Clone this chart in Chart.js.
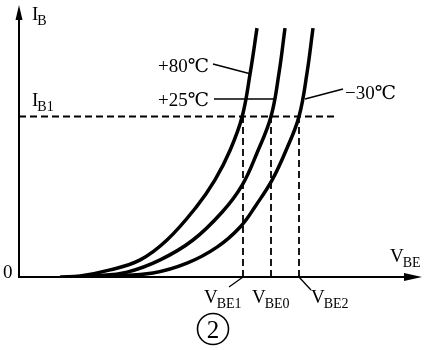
<!DOCTYPE html>
<html>
<head>
<meta charset="utf-8">
<script src="https://cdn.jsdelivr.net/npm/chart.js@4/dist/chart.umd.min.js"></script>
<style>
  html, body { margin: 0; padding: 0; background: #fff; }
  #wrap { width: 425px; height: 350px; }
</style>
</head>
<body>
<div id="wrap"><canvas id="grafica"></canvas></div>
<script>
// input characteristic I_B(V_BE) at three temperatures (arbitrary units)
var vbe80 = [10.3, 15.3, 22.8, 30.3, 37, 44.3, 49, 52.8, 55.8, 57.8, 59.5];
var ib80  = [0, 0.4, 2.6, 6.3, 13.6, 25.7, 35.7, 46.7, 59, 75, 91.5];

var vbe25 = [12.8, 18.5, 27, 35.3, 43.5, 50.8, 55.8, 59.5, 63, 65, 66.5];
var ib25  = [0, 0.4, 1.8, 6.3, 13.6, 23.9, 33.8, 45.6, 59, 75, 91.5];

var vbe30 = [16.5, 22.8, 33.5, 42, 49.5, 55.3, 59.3, 63.3, 66.8, 70, 72, 73.5];
var ib30  = [0, 0.4, 1.5, 5.1, 11, 18.4, 26.5, 35.7, 46.7, 59, 75, 91.5];

var etiquetas = ["+80℃", "+25℃", "−30℃"];
var IB1 = 59;
var vbeMarcas = [56, 63, 70];          // V_BE1, V_BE0, V_BE2
var vbeNombres = ["BE1", "BE0", "BE2"];
var finLineaIB1 = 79.5;

var FUENTE = "'Liberation Serif', 'DejaVu Serif', serif";

function puntos(xs, ys) {
    var arr = [];
    for (let i = 0; i < xs.length; i++) {
        arr.push({x: xs[i], y: ys[i]});
    }
    return arr;
}

function curva(xs, ys) {
    return {
        data: puntos(xs, ys),
        showLine: true,
        borderColor: "#000",
        borderWidth: 3.5,
        pointRadius: 0,
        tension: 0.4,
        fill: false
    };
}

function discontinua(pts) {
    return {
        data: pts,
        showLine: true,
        borderColor: "#000",
        borderWidth: 1.8,
        borderDash: [7, 4],
        pointRadius: 0,
        tension: 0
    };
}

var conjuntos = [curva(vbe80, ib80), curva(vbe25, ib25), curva(vbe30, ib30)];
conjuntos.push(discontinua([{x: 0, y: IB1}, {x: finLineaIB1, y: IB1}]));
for (let i = 0; i < vbeMarcas.length; i++) {
    conjuntos.push(discontinua([{x: vbeMarcas[i], y: 0}, {x: vbeMarcas[i], y: IB1}]));
}

// texto con subindice: letra principal + subindice mas pequeño
function conSub(ctx, letra, sub, x, y) {
    ctx.font = "19px " + FUENTE;
    ctx.textAlign = "left";
    ctx.textBaseline = "alphabetic";
    ctx.fillText(letra, x, y);
    var w = ctx.measureText(letra).width;
    ctx.font = "14px " + FUENTE;
    ctx.fillText(sub, x + w - 1, y + 5);
}

function linea(ctx, x1, y1, x2, y2, ancho) {
    ctx.beginPath();
    ctx.lineWidth = ancho;
    ctx.moveTo(x1, y1);
    ctx.lineTo(x2, y2);
    ctx.stroke();
}

var ejes = {
    id: "ejes",
    afterDatasetsDraw: function (chart) {
        var ctx = chart.ctx;
        var xs = chart.scales.x, ys = chart.scales.y;
        var x0 = xs.getPixelForValue(0), y0 = ys.getPixelForValue(0);
        var area = chart.chartArea;
        ctx.save();
        ctx.strokeStyle = "#000";
        ctx.fillStyle = "#000";

        // eje vertical con flecha
        linea(ctx, x0, y0 + 1, x0, area.top + 12, 2);
        ctx.beginPath();
        ctx.moveTo(x0, area.top);
        ctx.lineTo(x0 - 3.5, area.top + 15);
        ctx.lineTo(x0 + 3.5, area.top + 15);
        ctx.closePath();
        ctx.fill();

        // eje horizontal con flecha
        var punta = area.right + 3;
        linea(ctx, x0 - 1, y0, punta - 14, y0, 2);
        ctx.beginPath();
        ctx.moveTo(punta, y0);
        ctx.lineTo(punta - 18, y0 - 4);
        ctx.lineTo(punta - 18, y0 + 4);
        ctx.closePath();
        ctx.fill();

        // rotulos de ejes
        conSub(ctx, "I", "B", x0 + 13, 20);
        conSub(ctx, "I", "B1", x0 + 13, ys.getPixelForValue(IB1) - 11);
        ctx.font = "19px " + FUENTE;
        ctx.fillText("0", 3, y0 + 1);
        conSub(ctx, "V", "BE", 390, y0 - 15);

        // marcas en el eje V_BE
        var yLab = y0 + 26;
        var p1 = xs.getPixelForValue(vbeMarcas[0]);
        var p0 = xs.getPixelForValue(vbeMarcas[1]);
        var p2 = xs.getPixelForValue(vbeMarcas[2]);
        conSub(ctx, "V", vbeNombres[0], p1 - 39, yLab);
        conSub(ctx, "V", vbeNombres[1], p0 - 19, yLab);
        conSub(ctx, "V", vbeNombres[2], p2 + 12, yLab);
        linea(ctx, p1, y0, p1 - 14, y0 + 10, 1.3);
        linea(ctx, p2, y0, p2 + 12, y0 + 13, 1.3);

        // etiquetas de temperatura con lineas guia
        ctx.font = "19px " + FUENTE;
        ctx.fillText(etiquetas[0], 158, 72);
        linea(ctx, 213, 64, xs.getPixelForValue(58), ys.getPixelForValue(75) + 1, 1.3);
        ctx.fillText(etiquetas[1], 158, 106);
        linea(ctx, 214, 99, xs.getPixelForValue(63.8), 99, 1.3);
        ctx.fillText(etiquetas[2], 345, 99);
        linea(ctx, xs.getPixelForValue(71.5), 99, 343, 89, 1.3);

        // numero de figura en circulo
        ctx.beginPath();
        ctx.lineWidth = 1.6;
        ctx.arc(213, 329, 15.5, 0, Math.PI * 2);
        ctx.stroke();
        ctx.font = "25px " + FUENTE;
        ctx.textAlign = "center";
        ctx.fillText("2", 213, 338);
        ctx.restore();
    }
};

new Chart(document.getElementById("grafica"), {
    type: "scatter",
    data: { datasets: conjuntos },
    options: {
        responsive: true,
        maintainAspectRatio: false,
        animation: false,
        layout: { padding: { left: 19, right: 6, top: 5, bottom: 73 } },
        plugins: { legend: { display: false }, tooltip: { enabled: false } },
        scales: {
            x: { type: "linear", min: 0, max: 100, display: false },
            y: { type: "linear", min: 0, max: 100, display: false }
        }
    },
    plugins: [ejes]
});
</script>
</body>
</html>
